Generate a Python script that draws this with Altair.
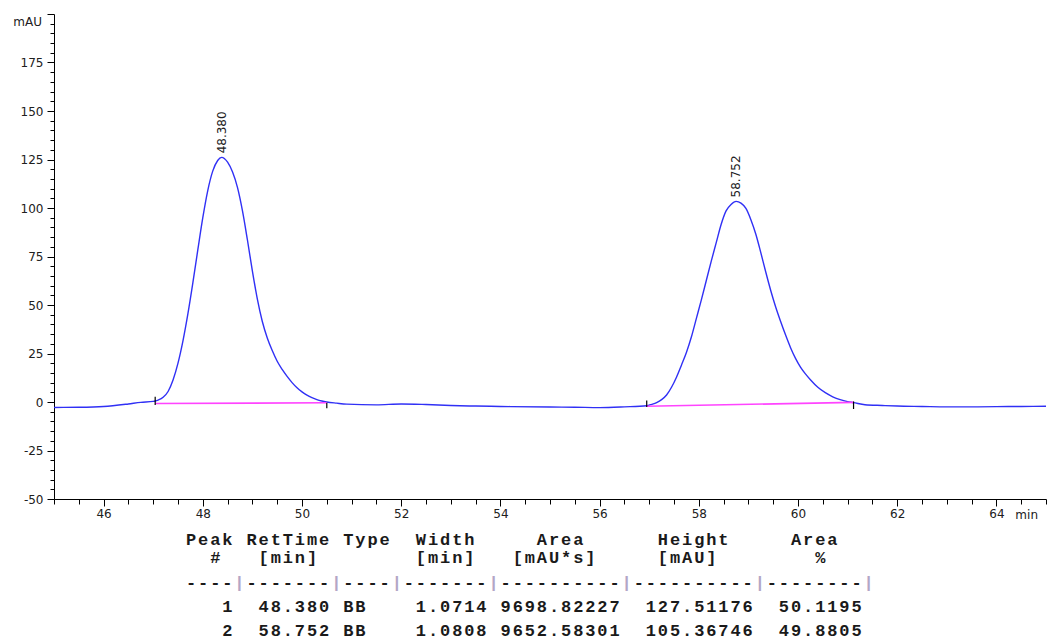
import altair as alt
import pandas as pd

# ---- chromatogram trace: retention time [min] vs detector signal [mAU] ----
TIME = [45.0, 45.5, 46.0, 46.5, 46.75, 47.0, 47.04, 47.1, 47.2, 47.3, 47.4,
        47.5, 47.6, 47.7, 47.8, 47.9, 48.0, 48.1, 48.2, 48.3, 48.38,
        48.5, 48.6, 48.7, 48.8, 48.9, 49.0, 49.1, 49.2, 49.3, 49.4,
        49.5, 49.6, 49.7, 49.8, 49.9, 50.0, 50.1, 50.2, 50.3, 50.4,
        50.5, 50.7, 50.9, 51.5, 52.0, 52.5, 53.0, 53.5, 54.0, 55.0,
        55.5, 56.0, 56.5, 56.95, 57.05, 57.15, 57.25, 57.35, 57.45, 57.55,
        57.65, 57.75, 57.85, 57.95, 58.05, 58.15, 58.25, 58.35, 58.45, 58.55,
        58.65, 58.752, 58.85, 58.95, 59.05, 59.15, 59.25, 59.35, 59.45, 59.55,
        59.65, 59.75, 59.85, 59.95, 60.05, 60.15, 60.25, 60.4, 60.55, 60.7,
        60.85, 61.0, 61.12, 61.35, 61.7, 62.0, 62.5, 63.0, 63.5, 64.0,
        64.5, 65.0]
SIGNAL = [-2.8, -2.7, -2.3, -1.0, -0.2, 0.3, 0.5, 1.0, 2.4, 5.4, 11.3,
          20.0, 31.5, 45.5, 61.5, 78.5, 95.0, 109.0, 119.0, 124.5, 126.1,
          123.6, 118.5, 110.5, 98.5, 83.5, 67.5, 53.0, 41.5, 33.0, 26.5,
          21.0, 16.8, 13.2, 10.0, 7.3, 5.2, 3.5, 2.2, 1.2, 0.5,
          0.0, -0.6, -1.1, -1.5, -1.0, -1.3, -1.8, -2.1, -2.3, -2.6,
          -2.7, -2.9, -2.5, -1.9, -1.2, -0.3, 1.2, 3.6, 7.6, 12.8,
          19.0, 25.5, 33.5, 43.0, 52.5, 62.5, 72.5, 82.0, 91.5, 98.5,
          101.8, 103.4, 102.5, 99.8, 94.0, 86.5, 77.0, 67.0, 57.5, 49.0,
          41.5, 34.5, 28.0, 22.5, 18.0, 14.5, 11.5, 7.6, 4.8, 2.7,
          1.2, 0.2, -0.3, -1.4, -1.8, -2.1, -2.3, -2.5, -2.5, -2.4,
          -2.3, -2.2]

# ---- integration results ----
PEAK_NO = [1, 2]
RET_TIME = [48.380, 58.752]
PEAK_TYPE = ["BB", "BB"]
PEAK_WIDTH = [1.0714, 1.0808]
PEAK_AREA = [9698.82227, 9652.58301]
PEAK_HEIGHT = [127.51176, 105.36746]
AREA_PCT = [50.1195, 49.8805]
APEX_SIGNAL = [126.1, 103.4]

# integration baselines (start / end of each peak)
BASE_T0 = [47.04, 56.95]
BASE_V0 = [-0.8, -2.2]
BASE_T1 = [50.50, 61.12]
BASE_V1 = [-0.4, -0.2]

# peak start / end markers
MARK_T = [47.04, 50.50, 56.95, 61.12]
MARK_TOP = [2.7, -0.4, 0.8, 0.3]
MARK_BOT = [-1.5, -3.2, -2.6, -3.6]

W, H = 992, 485
X_DOMAIN = [45, 65]
Y_DOMAIN = [-50, 200]
X_TICKS = [45 + 0.5 * i for i in range(41)]
Y_TICKS = list(range(-50, 201, 5))

LABEL_FONT = "DejaVu Sans"
INK = "#202020"


def xs():
    return alt.Scale(domain=X_DOMAIN, nice=False, zero=False)


def ys():
    return alt.Scale(domain=Y_DOMAIN, nice=False, zero=False)


trace_df = pd.DataFrame({"t": TIME, "v": SIGNAL})
peaks_df = pd.DataFrame({"rt": RET_TIME, "apex": APEX_SIGNAL,
                         "lbl": [f"{r:.3f}" for r in RET_TIME]})
base_df = pd.DataFrame({"t0": BASE_T0, "v0": BASE_V0, "t1": BASE_T1, "v1": BASE_V1})
mark_df = pd.DataFrame({"t": MARK_T, "top": MARK_TOP, "bot": MARK_BOT})

x_axis = alt.Axis(
    values=X_TICKS, orient="bottom", grid=False, title=None,
    labelExpr="datum.value % 2 === 0 ? '' + datum.value : ''",
    tickSize={"condition": {"test": "datum.value % 2 === 0", "value": 7}, "value": 5},
    tickColor="black", domainColor="black", labelColor=INK,
    labelFont=LABEL_FONT, labelFontSize=12, labelPadding=2,
)
y_axis = alt.Axis(
    values=Y_TICKS, orient="left", grid=False, title=None,
    labelExpr="datum.value % 25 === 0 && datum.value < 200 ? '' + datum.value : ''",
    tickSize={"condition": {"test": "datum.value % 25 === 0", "value": 7}, "value": 4},
    tickColor="black", domainColor="black", labelColor=INK,
    labelFont=LABEL_FONT, labelFontSize=12, labelPadding=4,
)

trace = alt.Chart(trace_df).mark_line(
    color="#3030f5", strokeWidth=1.4, interpolate="monotone"
).encode(
    x=alt.X("t:Q", scale=xs(), axis=x_axis),
    y=alt.Y("v:Q", scale=ys(), axis=y_axis),
)

baselines = alt.Chart(base_df).mark_rule(color="#ff44ff", strokeWidth=1.6).encode(
    x=alt.X("t0:Q", scale=xs(), axis=None),
    x2="t1:Q",
    y=alt.Y("v0:Q", scale=ys(), axis=None),
    y2="v1:Q",
)

markers = alt.Chart(mark_df).mark_rule(color="black", strokeWidth=1.2).encode(
    x=alt.X("t:Q", scale=xs(), axis=None),
    y=alt.Y("top:Q", scale=ys(), axis=None),
    y2="bot:Q",
)

peak_labels = alt.Chart(peaks_df).mark_text(
    angle=270, align="left", baseline="middle", dx=4,
    font=LABEL_FONT, fontSize=12, color=INK,
).encode(
    x=alt.X("rt:Q", scale=xs(), axis=None),
    y=alt.Y("apex:Q", scale=ys(), axis=None),
    text="lbl:N",
)

unit_y = alt.Chart(pd.DataFrame({"u": ["mAU"]})).mark_text(
    align="right", baseline="middle", font=LABEL_FONT, fontSize=12, color=INK,
).encode(x=alt.value(-12), y=alt.value(8), text="u:N")

unit_x = alt.Chart(pd.DataFrame({"u": ["min"]})).mark_text(
    align="right", baseline="middle", font=LABEL_FONT, fontSize=12, color=INK,
).encode(x=alt.value(W - 8), y=alt.value(H + 16), text="u:N")

# ---- peak table, laid out on a fixed character grid ----
table_lines = [
    "Peak RetTime Type  Width     Area      Height     Area  ",
    "  #   [min]        [min]   [mAU*s]     [mAU]        %   ",
    "----|-------|----|-------|----------|----------|--------|",
]
for n, rt, tp, w, a, h, p in zip(PEAK_NO, RET_TIME, PEAK_TYPE, PEAK_WIDTH,
                                 PEAK_AREA, PEAK_HEIGHT, AREA_PCT):
    table_lines.append(
        f"{n:>4} {rt:>7.3f} {tp:<4} {w:>7.4f} {a:>10.5f} {h:>10.5f} {p:>8.4f}"
    )

CHAR_W = 12.1
TABLE_X0 = 131
LINE_Y = [526, 544, 569, 593, 617]

cells = []
for li, line in enumerate(table_lines):
    for ci, ch in enumerate(line):
        if ch != " ":
            cells.append({"px": TABLE_X0 + (ci + 0.5) * CHAR_W, "py": LINE_Y[li],
                          "ch": ch, "col": "#b3a6c6" if ch == "|" else "#1a1a1a"})
cells_df = pd.DataFrame(cells)

table = alt.Chart(cells_df).mark_text(
    align="center", baseline="middle", font="Liberation Mono", fontSize=17,
    fontWeight="bold",
).encode(
    x=alt.X("px:Q", scale=alt.Scale(domain=[0, W], nice=False, zero=False), axis=None),
    y=alt.Y("py:Q", scale=alt.Scale(domain=[0, H], nice=False, zero=False, reverse=True), axis=None),
    text="ch:N",
    color=alt.Color("col:N", scale=None),
)

chart = alt.layer(
    trace, baselines, markers, peak_labels, unit_y, unit_x, table
).resolve_scale(
    x="independent", y="independent"
).properties(
    width=W, height=H,
    autosize=alt.AutoSizeParams(type="none"),
    padding={"left": 54, "top": 14, "right": 4, "bottom": 144},
    background="white",
).configure_view(stroke=None)

chart.save("out.html", embed_options={"renderer": "svg", "actions": False})
